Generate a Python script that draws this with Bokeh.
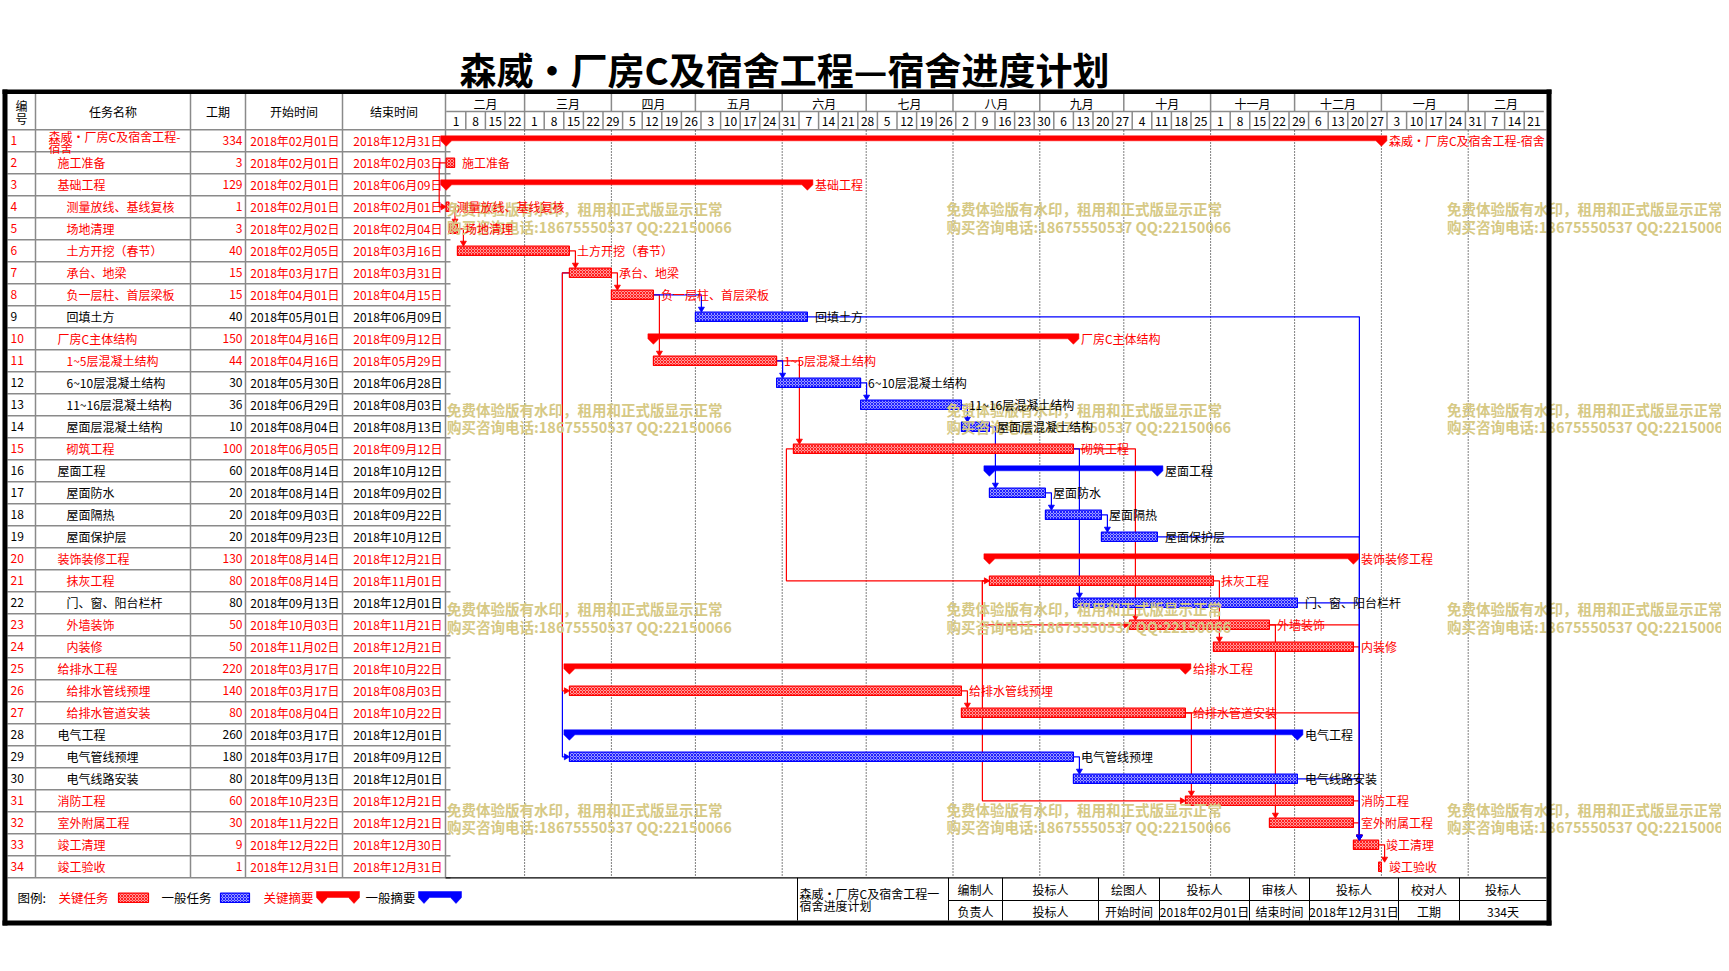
import pandas as pd
from bokeh.plotting import figure
from bokeh.models import Range1d, ColumnDataSource
from bokeh.embed import file_html
from bokeh.resources import INLINE
from bokeh.core.properties import value

# ------------------------------------------------------------------ data
task_names = [
    "森威・厂房C及宿舍工程-宿舍", "施工准备", "基础工程", "测量放线、基线复核", "场地清理",
    "土方开挖（春节）", "承台、地梁", "负一层柱、首层梁板", "回填土方", "厂房C主体结构",
    "1~5层混凝土结构", "6~10层混凝土结构", "11~16层混凝土结构", "屋面层混凝土结构", "砌筑工程",
    "屋面工程", "屋面防水", "屋面隔热", "屋面保护层", "装饰装修工程",
    "抹灰工程", "门、窗、阳台栏杆", "外墙装饰", "内装修", "给排水工程",
    "给排水管线预埋", "给排水管道安装", "电气工程", "电气管线预埋", "电气线路安装",
    "消防工程", "室外附属工程", "竣工清理", "竣工验收"]
durations = [334, 3, 129, 1, 3, 40, 15, 15, 40, 150, 44, 30, 36, 10, 100, 60, 20, 20, 20, 130,
             80, 80, 50, 50, 220, 140, 80, 260, 180, 80, 60, 30, 9, 1]
start_dates = ["2018-02-01", "2018-02-01", "2018-02-01", "2018-02-01", "2018-02-02", "2018-02-05",
               "2018-03-17", "2018-04-01", "2018-05-01", "2018-04-16", "2018-04-16", "2018-05-30",
               "2018-06-29", "2018-08-04", "2018-06-05", "2018-08-14", "2018-08-14", "2018-09-03",
               "2018-09-23", "2018-08-14", "2018-08-14", "2018-09-13", "2018-10-03", "2018-11-02",
               "2018-03-17", "2018-03-17", "2018-08-04", "2018-03-17", "2018-03-17", "2018-09-13",
               "2018-10-23", "2018-11-22", "2018-12-22", "2018-12-31"]
end_dates = ["2018-12-31", "2018-02-03", "2018-06-09", "2018-02-01", "2018-02-04", "2018-03-16",
             "2018-03-31", "2018-04-15", "2018-06-09", "2018-09-12", "2018-05-29", "2018-06-28",
             "2018-08-03", "2018-08-13", "2018-09-12", "2018-10-12", "2018-09-02", "2018-09-22",
             "2018-10-12", "2018-12-21", "2018-11-01", "2018-12-01", "2018-11-21", "2018-12-21",
             "2018-10-22", "2018-08-03", "2018-10-22", "2018-12-01", "2018-09-12", "2018-12-01",
             "2018-12-21", "2018-12-21", "2018-12-30", "2018-12-31"]
critical = [1, 1, 1, 1, 1, 1, 1, 1, 0, 1, 1, 0, 0, 0, 1, 0, 0, 0, 0, 1,
            1, 0, 1, 1, 1, 1, 1, 0, 0, 0, 1, 1, 1, 1]
summary_rows = [1, 3, 10, 16, 20, 25, 28]
indent_levels = [0, 1, 1, 2, 2, 2, 2, 2, 2, 1, 2, 2, 2, 2, 2, 1, 2, 2, 2, 1,
                 2, 2, 2, 2, 1, 2, 2, 1, 2, 2, 1, 1, 1, 1]
fs_links = [(4, 5), (5, 6), (6, 7), (7, 8), (8, 9), (8, 11), (11, 12), (11, 15), (12, 13),
            (13, 14), (14, 17), (17, 18), (18, 19), (15, 22), (15, 23), (21, 24), (23, 32),
            (26, 27), (27, 31), (29, 30), (33, 34), (9, 33), (19, 33), (22, 33), (23, 33),
            (24, 33), (27, 33), (30, 33), (31, 33), (32, 33)]
ss_links = [(2, 4), (7, 26), (7, 29), (15, 21), (21, 23), (21, 31)]
month_labels = ["二月", "三月", "四月", "五月", "六月", "七月", "八月", "九月", "十月",
                "十一月", "十二月", "一月", "二月"]
month_starts = ["2018-02-01", "2018-03-01", "2018-04-01", "2018-05-01", "2018-06-01",
                "2018-07-01", "2018-08-01", "2018-09-01", "2018-10-01", "2018-11-01",
                "2018-12-01", "2019-01-01", "2019-02-01"]
week_labels = [1, 8, 15, 22, 1, 8, 15, 22, 29, 5, 12, 19, 26, 3, 10, 17, 24, 31, 7, 14, 21, 28,
               5, 12, 19, 26, 2, 9, 16, 23, 30, 6, 13, 20, 27, 4, 11, 18, 25, 1, 8, 15, 22, 29,
               6, 13, 20, 27, 3, 10, 17, 24, 31, 7, 14, 21]
header_cols = ["任务名称", "工期", "开始时间", "结束时间"]
legend_labels = ["图例:", "关键任务", "一般任务", "关键摘要", "一般摘要"]
footer_row1 = ["编制人", "投标人", "绘图人", "投标人", "审核人", "投标人", "校对人", "投标人"]
footer_row2 = ["负责人", "投标人", "开始时间", "2018年02月01日", "结束时间", "2018年12月31日", "工期", "334天"]
title_text = "森威•厂房C及宿舍工程—宿舍进度计划"
watermark_lines = ["免费体验版有水印，租用和正式版显示正常", "购买咨询电话:18675550537 QQ:22150066"]

# ------------------------------------------------------------------ derived
base = pd.Timestamp(start_dates[0])
d0 = [(pd.Timestamp(s) - base).days for s in start_dates]
d1 = [(pd.Timestamp(e) - base).days + 1 for e in end_dates]
m0 = [(pd.Timestamp(s) - base).days for s in month_starts]
t_end = len(week_labels) * 7
m1 = m0[1:] + [t_end]
N = len(task_names)
rows = list(range(1, N + 1))
RED, BLUE, GRAY = "#ff0000", "#0000ff", "#8a8a8a"
tcol = [RED if c else "#000000" for c in critical]

# ------------------------------------------------------------------ figure
W, H = 1721, 940
K, X0, RH, Y0 = 2.8, 445.7, 22.0, 118.3


def dx(px):
    return px / K


def dy(px):
    return px / RH


FONT = value("Noto Sans CJK SC")
p = figure(width=W, height=H, x_range=Range1d(0, W), y_range=Range1d(H, 0),
           output_backend="svg", toolbar_location=None, x_axis_location=None,
           y_axis_location=None, min_border=0, outline_line_color=None, title=None)
p.extra_x_ranges = {"d": Range1d(-X0 / K, (W - X0) / K)}
p.extra_y_ranges = {"r": Range1d((H - Y0) / RH, -Y0 / RH)}
p.grid.visible = False
p.background_fill_color = "white"
p.border_fill_color = "white"


def txt(x, y, t, color="#000000", size="12px", align="left", xr="default", yr="default",
        style="normal"):
    p.text(x=x, y=y, text=t, text_color=color, text_font=FONT, text_font_size=size,
           text_align=align, text_baseline="middle", text_font_style=style,
           x_range_name=xr, y_range_name=yr)


# ---- title
txt([784], [68], [title_text], size="37px", align="center", style="bold")

# ---- table grid
p.segment(x0=[7] * N, y0=[r + 0.5 for r in rows], x1=[445] * N, y1=[r + 0.5 for r in rows],
          y_range_name="r", line_color=GRAY, line_width=1.5)
p.segment(x0=[445] * N, y0=[r + 0.5 for r in rows], x1=[450] * N, y1=[r + 0.5 for r in rows],
          y_range_name="r", line_color=GRAY, line_width=1.5)
p.segment(x0=[7], y0=[0.5], x1=[1546], y1=[0.5], y_range_name="r", line_color=GRAY, line_width=1.5)
col_x = [35, 190, 245, 342, 445]
p.segment(x0=col_x, y0=[93] * 5, x1=col_x, y1=[877.3] * 5, line_color=GRAY, line_width=1.5)

# ---- timeline header
p.segment(x0=[0], y0=[111], x1=[t_end], y1=[111], x_range_name="d", line_color=GRAY, line_width=1.5)
p.segment(x0=m0[1:], y0=[93] * (len(m0) - 1), x1=m0[1:], y1=[111] * (len(m0) - 1),
          x_range_name="d", line_color=GRAY, line_width=1.5)
wk = [i * 7 for i in range(len(week_labels))]
p.segment(x0=wk[1:], y0=[111] * (len(wk) - 1), x1=wk[1:], y1=[129.3] * (len(wk) - 1),
          x_range_name="d", line_color=GRAY, line_width=1.5)
txt([(a + b) / 2 for a, b in zip(m0, m1)], [102.5] * len(m0), month_labels, align="center", xr="d")
txt([w + 3.5 for w in wk], [120.5] * len(wk), [str(w) for w in week_labels], align="center", xr="d")

# dotted month lines
p.segment(x0=m0[1:], y0=[130] * (len(m0) - 1), x1=m0[1:], y1=[877] * (len(m0) - 1),
          x_range_name="d", line_color="#000000", line_width=1, line_dash="1 2")

# ---- table header text
txt([21, 21], [105, 118], ["编", "号"], align="center")
txt([112.5, 217.5, 293.5, 393.5], [111] * 4, header_cols, align="center")

# ---- table body
tbl_names = list(task_names)
first = tbl_names[0]
tbl_names[0] = first[:-2]
src_tbl = ColumnDataSource(dict(
    r=rows, idx=[str(r) for r in rows], name=tbl_names,
    nx=[48 + 9 * lv for lv in indent_levels], dur=[str(d) for d in durations],
    st=[pd.Timestamp(s).strftime("%Y年%m月%d日") for s in start_dates],
    en=[pd.Timestamp(e).strftime("%Y年%m月%d日") for e in end_dates],
    c=tcol))
name_y = [r - dy(4.5) if r == 1 else r for r in rows]
src_tbl.data["ny"] = name_y
common = dict(source=src_tbl, text_color="c", text_font=FONT, text_font_size="12px",
              text_baseline="middle", y_range_name="r")
p.text(x=10, y="r", text="idx", text_align="left", **common)
p.text(x="nx", y="ny", text="name", text_align="left", **common)
p.text(x=242, y="r", text="dur", text_align="right", **common)
p.text(x=339, y="r", text="st", text_align="right", **common)
p.text(x=442, y="r", text="en", text_align="right", **common)
txt([48], [1 + dy(6.5)], [first[-2:]], color=tcol[0], yr="r")

# ---- dependency links (drawn under the bars)
links = [(a, b, "FS") for a, b in fs_links] + [(a, b, "SS") for a, b in ss_links]
links.sort(key=lambda t: (t[0], t[1]), reverse=True)
lxs, lys, lcol, axs, ays = [], [], [], [], []
for a, b, kind in links:
    i, j = a - 1, b - 1
    col = RED if (critical[i] and critical[j]) else BLUE
    if kind == "FS":
        xv = d0[j] + dx(6)
        ytop = b - dy(4.6)
        lxs.append([d1[i], xv, xv])
        lys.append([a, a, ytop - dy(4)])
        axs.append([xv - dx(3), xv + dx(3), xv])
        ays.append([ytop - dy(5), ytop - dy(5), ytop])
    else:
        xl = d0[i] - dx(7)
        lxs.append([d0[i], xl, xl, d0[j] - dx(4)])
        lys.append([a, a, b, b])
        axs.append([d0[j] - dx(5), d0[j] - dx(5), d0[j]])
        ays.append([b - dy(3), b + dy(3), b])
    lcol.append(col)
p.multi_line(xs=lxs, ys=lys, line_color=lcol, line_width=1.2, x_range_name="d", y_range_name="r")

# ---- task bars
tr = [r for r in rows if r not in summary_rows]
src_bar = ColumnDataSource(dict(
    l=[d0[r - 1] for r in tr], rr=[d1[r - 1] for r in tr],
    t=[r - dy(4.6) for r in tr], b=[r + dy(4.6) for r in tr],
    c=[RED if critical[r - 1] else BLUE for r in tr],
    f=["#ff9a9a" if critical[r - 1] else "#9a9aff" for r in tr]))
p.quad(left="l", right="rr", top="t", bottom="b", source=src_bar, fill_color="f",
       hatch_pattern="x", hatch_color="c", hatch_scale=3, hatch_weight=0.8,
       line_color="c", line_width=1.2, x_range_name="d", y_range_name="r")

# ---- summary bars
sx, sy, sc = [], [], []
for r in summary_rows:
    a, b = d0[r - 1], d1[r - 1]
    h = dx(5.5)
    sx.append([a - h, b + h, b + h, b, b - h, a + h, a, a - h])
    top, mid, tip = r - dy(5), r, r + dy(5.5)
    sy.append([top, top, mid, tip, mid, mid, tip, mid])
    sc.append(RED if critical[r - 1] else BLUE)
p.patches(xs=sx, ys=sy, fill_color=sc, line_color=sc, line_width=0.5,
          x_range_name="d", y_range_name="r")

# arrows
p.patches(xs=axs, ys=ays, fill_color=lcol, line_color=lcol, line_width=0.8,
          x_range_name="d", y_range_name="r")

# ---- watermark
wm_x = [446.6, 946, 1446.6]
wm_y = [208, 408.5, 608, 808.5]
for yy in wm_y:
    txt(wm_x, [yy] * 3, [watermark_lines[0]] * 3, color="#d6c985", size="14.5px", style="bold")
    txt(wm_x, [yy + 17.5] * 3, [watermark_lines[1]] * 3, color="#d6c985", size="14.5px", style="bold")

# ---- bar labels
txt([d1[r - 1] + dx(7.5) for r in rows], rows, task_names, color=tcol, xr="d", yr="r")

# ---- footer
p.segment(x0=[445], y0=[877.3], x1=[1546], y1=[877.3], line_color="#000000", line_width=1.2)
fx = [797, 948, 1002, 1098, 1159, 1249, 1309, 1398, 1459]
p.segment(x0=fx, y0=[877.3] * len(fx), x1=fx, y1=[920] * len(fx), line_color="#000000", line_width=1)
p.segment(x0=[948], y0=[900], x1=[1546], y1=[900], line_color="#000000", line_width=1)
cells = fx[1:] + [1546]
cx = [(a + b) / 2 for a, b in zip(cells[:-1], cells[1:])]
txt(cx, [889] * 8, footer_row1, align="center")
txt(cx, [910.5] * 8, footer_row2, align="center")
txt([799, 799], [892.5, 904.5], ["森威・厂房C及宿舍工程一", "宿舍进度计划"])

# legend
txt([17, 58, 161, 263, 365], [897] * 5, legend_labels,
    color=["#000000", RED, "#000000", RED, "#000000"], size="12.5px")
p.quad(left=[118, 220], right=[148, 249], top=[892.7, 892.7], bottom=[902, 902],
       fill_color=["#ff9a9a", "#9a9aff"], hatch_pattern="x", hatch_color=[RED, BLUE],
       hatch_scale=3, hatch_weight=0.8, line_color=[RED, BLUE], line_width=1.2)
lgx, lgy = [], []
for L, R in [(316, 359), (418, 461)]:
    lgx.append([L, R, R, R - 5.5, R - 11, L + 11, L + 5.5, L])
    lgy.append([891, 891, 897, 903, 897, 897, 903, 897])
p.patches(xs=lgx, ys=lgy, fill_color=[RED, BLUE], line_color=[RED, BLUE], line_width=0.5)

# ---- outer border
p.quad(left=[2, 2, 2, 1546], right=[1551, 1551, 7, 1551], top=[89, 920, 89, 89],
       bottom=[93.5, 925, 925, 925], fill_color="#000000", line_color=None)

open("out.html", "w").write(file_html(p, INLINE))
